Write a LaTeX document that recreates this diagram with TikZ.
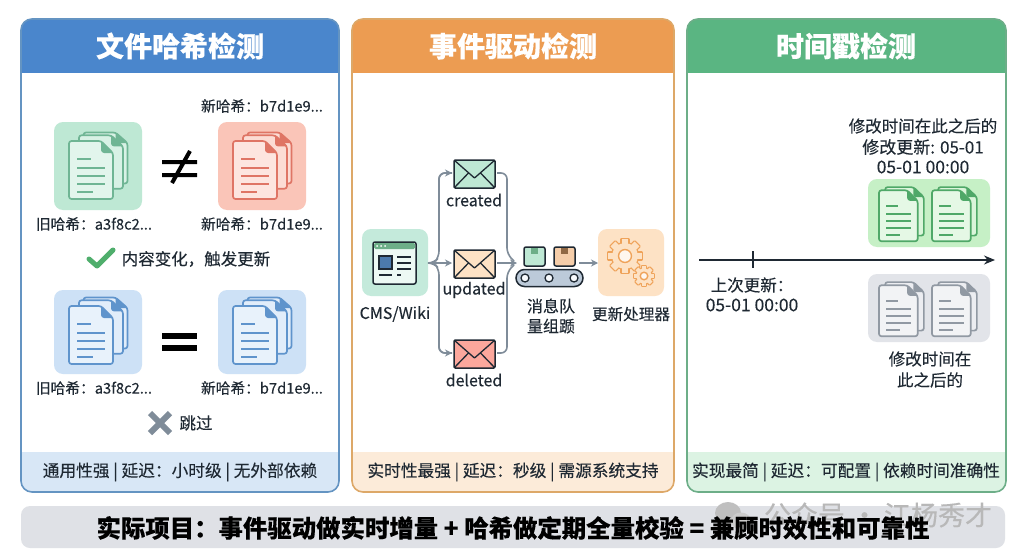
\documentclass[tikz,border=0pt]{standalone}
\usepackage{fontspec}
\setmainfont{Noto Sans CJK SC}[FakeBold=0.2]
\usetikzlibrary{arrows.meta}
\definecolor{bluehd}{HTML}{4A86CC}
\definecolor{blueln}{HTML}{6494C2}
\definecolor{bluefoot}{HTML}{D8E7F6}
\definecolor{orangehd}{HTML}{EC9C52}
\definecolor{orangeln}{HTML}{DDA868}
\definecolor{orangefoot}{HTML}{FCEBD9}
\definecolor{greenhd}{HTML}{5AB582}
\definecolor{greenln}{HTML}{6DAE88}
\definecolor{greenfoot}{HTML}{DCF3E3}
\definecolor{ink}{HTML}{1F2933}
\definecolor{arrowgray}{HTML}{7F8C99}
\definecolor{barbg}{HTML}{DFE1E6}
\definecolor{tilegreen}{HTML}{BEE8D4}
\definecolor{tilered}{HTML}{FAC5B8}
\definecolor{tileblue}{HTML}{CDE1F6}
\definecolor{tilecms}{HTML}{C4EADB}
\definecolor{tileorange}{HTML}{FDE2C5}
\definecolor{tilelime}{HTML}{C6F0C6}
\definecolor{tilegray}{HTML}{E2E4E9}
\definecolor{dgreen}{HTML}{6FB594}
\definecolor{dred}{HTML}{DF7565}
\definecolor{dblue}{HTML}{5F94CC}
\definecolor{dlime}{HTML}{4FA868}
\definecolor{dgray}{HTML}{9199A3}
\definecolor{gearc}{HTML}{EFA35A}
\definecolor{checkc}{HTML}{4FAE6C}
\newcommand{\fs}[1]{\fontsize{#1}{#1}\selectfont}
\tikzset{
  x=1pt,y=-1pt,
  hashlab/.style={font=\fs{14.7},text=ink,inner sep=0pt},
  lab/.style={font=\fs{16.5},text=ink,inner sep=0pt},
  timelab/.style={font=\fs{17.5},text=ink,inner sep=0pt},
  title/.style={font=\fs{28}\bfseries,text=white,inner sep=0pt},
  foot/.style={font=\fs{16.7},text=ink,inner sep=0pt},
  flow/.style={draw=arrowgray,line width=1.6pt,rounded corners=6pt},
  flowtip/.style={flow,-{Stealth[length=7pt,width=7pt]}},
  tile/.style={rounded corners=9pt},
}
\newcommand{\panel}[5]{%
  \fill[white,rounded corners=11pt] (#1,19) rectangle (#2,492);
  \begin{scope}
    \clip[rounded corners=11pt] (#1,19) rectangle (#2,492);
    \fill[#3] (#1,19) rectangle (#2,73);
    \fill[#5] (#1,452) rectangle (#2,492);
  \end{scope}
  \draw[#4,line width=1.6pt,rounded corners=11pt] (#1,19) rectangle (#2,492);
}
\newcommand{\pagepath}[3]{%
  \draw[#1,fill=#2,line width=1.7pt,line join=round,rounded corners=2.5pt]
    (-22,-29) -- (10,-29) -- (22,-17) -- (22,29) -- (-22,29) -- cycle;
  \fill[#1,rounded corners=1pt] (10,-29) -- (22,-17) -- (12,-17) -- (10,-19) -- cycle;
  \ifnum#3=1\relax
  \draw[#1,line width=1.5pt]
    (-14,-11) -- (0,-11) (-14,-2) -- (14,-2) (-14,6) -- (14,6) (-14,14) -- (14,14) (-14,22) -- (2,22);
  \fi
}
\newcommand{\stackthree}[5]{%
  \begin{scope}[shift={(#1,#2)}]
    \begin{scope}[shift={(7.5,-8)},yscale=.88]\pagepath{#3}{#4}{0}\end{scope}
    \begin{scope}[shift={(3,-4)},yscale=.92]\pagepath{#3}{#4}{0}\end{scope}
    \begin{scope}[shift={(-7,4)}]\pagepath{#3}{#5}{1}\end{scope}
  \end{scope}}
\newcommand{\stacktwo}[5]{%
  \begin{scope}[shift={(#1,#2)},scale=.88]
    \begin{scope}[shift={(4,-3)},yscale=.95]\pagepath{#3}{#4}{0}\end{scope}
    \begin{scope}[shift={(-3,2)}]\pagepath{#3}{#5}{1}\end{scope}
  \end{scope}}
\newcommand{\envelope}[3]{%
  \begin{scope}[shift={(#1,#2)}]
    \draw[ink,fill=#3,line width=1.5pt,rounded corners=1.5pt] (-20.5,-14) rectangle (20.5,14);
    \draw[ink,line width=1.3pt,line join=round] (-20.5,-14) -- (0,4) -- (20.5,-14) (-20.5,14) -- (-6,-1) (20.5,14) -- (6,-1);
  \end{scope}}
\newcommand{\gear}[5]{%
  \begin{scope}[shift={(#1,#2)}]
    \foreach \a in {0,45,...,315}{\draw[#4,line width=2.6pt,line join=round,rotate=\a] (-.2*#3,0) rectangle (.2*#3,-#3);}
    \draw[#4,line width=2.6pt] (0,0) circle[radius=.76*#3];
    \foreach \a in {0,45,...,315}{\fill[#5,rotate=\a] (-.2*#3,0) rectangle (.2*#3,-#3);}
    \fill[#5] (0,0) circle[radius=.76*#3];
    \draw[#4,line width=1.4pt,fill=white!70!#5] (0,0) circle[radius=.38*#3];
  \end{scope}}
\begin{document}
\begin{tikzpicture}
\useasboundingbox (0,0) rectangle (1024,559);
\fill[white] (0,0) rectangle (1024,559);

\panel{21}{339}{bluehd}{blueln}{bluefoot}
\panel{352}{674}{orangehd}{orangeln}{orangefoot}
\panel{687}{1006}{greenhd}{greenln}{greenfoot}

\node[title] (t1) at (180,46) {文件哈希检测};
\node[title] (t2) at (513,46) {事件驱动检测};
\node[title] (t3) at (846,46) {时间戳检测};

\node[foot] (f1) at (180,472) {通用性强 | 延迟：小时级 | 无外部依赖};
\node[foot] (f2) at (513,472) {实时性最强 | 延迟：秒级 | 需源系统支持};
\node[foot] (f3) at (846,472) {实现最简 | 延迟：可配置 | 依赖时间准确性};

\fill[tile,tilegreen] (54,122) rectangle (142,210);
\fill[tile,tilered] (218,122) rectangle (306,210);
\fill[tile,tileblue] (54,290) rectangle (142,374);
\fill[tile,tileblue] (218,290) rectangle (306,374);
\stackthree{98}{166}{dgreen}{white!40!tilegreen}{white!55!tilegreen}
\stackthree{262}{166}{dred}{white!40!tilered}{white!55!tilered}
\stackthree{98}{331}{dblue}{white!40!tileblue}{white!55!tileblue}
\stackthree{262}{331}{dblue}{white!40!tileblue}{white!55!tileblue}

\node[hashlab] (a1) at (262,106) {新哈希：b7d1e9...};
\node[hashlab] (a2) at (94,224) {旧哈希：a3f8c2...};
\node[hashlab] (a3) at (262,224) {新哈希：b7d1e9...};
\node[hashlab] (a4) at (94,388) {旧哈希：a3f8c2...};
\node[hashlab] (a5) at (262,388) {新哈希：b7d1e9...};
\node[lab] (a6) at (196,259) {内容变化，触发更新};
\node[lab] (a7) at (196,423) {跳过};

\draw[black,line width=4pt] (162,162) -- (197,162) (162,175) -- (197,175) (190,151) -- (172,183);
\draw[black,line width=6.5pt] (162,336) -- (197,336) (162,348) -- (197,348);
\draw[checkc,line width=5pt,line cap=round,line join=round] (89,259) -- (97,266) -- (113,250);
\draw[arrowgray,line width=6pt] (150,413) -- (170,433) (170,413) -- (150,433);

\fill[tile,tilecms] (362,229) rectangle (428,296);
\fill[tile,tileorange] (598,229) rectangle (664,296);
\node[lab,font=\fs{16}] (cms) at (395,314) {CMS/Wiki};
\node[lab,font=\fs{15.6}] (pr) at (631,314) {更新处理器};
\node[lab,font=\fs{16},align=center] (mq) at (551,316) {消息队\\[4pt]量组踬};
\node[lab,font=\fs{16}] (e1) at (474,200) {created};
\node[lab,font=\fs{16}] (e2) at (474,290) {updated};
\node[lab,font=\fs{16}] (e3) at (474,380) {deleted};

\coordinate (cmsout) at (428,263);
\coordinate (env1in) at (452,173);
\coordinate (env2in) at (452,263);
\coordinate (env3in) at (452,353);
\coordinate (env1out) at (497,173);
\coordinate (env2out) at (497,263);
\coordinate (env3out) at (497,353);
\coordinate (qin) at (517,263);
\coordinate (qout) at (579,263);
\coordinate (prin) at (598,263);
\draw[flowtip] (cmsout) -- (env2in);
\draw[flow] (cmsout) -- ++(6,0) -- ++(5,-6) -- (439,173) -- (env1in);
\draw[flowtip] (439,180) |- (env1in);
\draw[flow] (cmsout) -- ++(6,0) -- ++(5,6) -- (439,353) -- (env3in);
\draw[flowtip] (439,346) |- (env3in);
\draw[flow] (env1out) -| (507,254) -- (514,261);
\draw[flow] (env3out) -| (507,272) -- (514,265);
\draw[flowtip] (env2out) -- (qin);
\draw[flowtip] (qout) -- (prin);

\envelope{474.5}{174}{tilegreen}
\envelope{474.5}{264}{tileorange}
\envelope{474.5}{354}{tilered!85!red}

\draw[ink,fill=white!70!tilecms,line width=1.5pt,rounded corners=2pt] (373,242) rectangle (416,284);
\fill[greenln,rounded corners=1.5pt] (374,243) rectangle (415,249);
\fill[white] (377,246) circle[radius=1] (381,246) circle[radius=1] (385,246) circle[radius=1];
\draw[ink,fill=greenln!70!blue,line width=1.2pt] (379,256) rectangle (392,269);
\draw[ink,line width=1.3pt] (397,257) -- (411,257) (397,263) -- (411,263) (397,269) -- (411,269) (379,275) -- (392,275) (397,275) -- (401,275);

\draw[ink,fill=tilegreen,line width=1.5pt,rounded corners=2pt] (524,247) rectangle (545,266);
\fill[greenln] (531,247.5) rectangle (538,254);
\draw[ink,fill=orangehd!50!white,line width=1.5pt,rounded corners=2pt] (554,247) rectangle (575,266);
\fill[ink!45!orangehd] (561,247.5) rectangle (568,254);
\draw[ink,fill=bluefoot!85!ink,line width=1.5pt,rounded corners=8.5pt] (516,269.5) rectangle (583,286.5);
\foreach \cx in {525,549,574}{\draw[ink,fill=white!80!bluefoot,line width=1.3pt] (\cx,278) circle[radius=4];}

\gear{625}{256}{17}{gearc}{tileorange}
\gear{644}{276}{10}{gearc}{tileorange}

\fill[tile,tilelime] (868,179) rectangle (990,247);
\fill[tile,tilegray] (868,274) rectangle (990,342);
\stacktwo{901}{214}{dlime}{white!35!tilelime}{white!55!tilelime}
\stacktwo{954}{214}{dlime}{white!35!tilelime}{white!55!tilelime}
\stacktwo{901}{309}{dgray}{white!35!tilegray}{white!55!tilegray}
\stacktwo{954}{309}{dgray}{white!35!tilegray}{white!55!tilegray}

\coordinate (axs) at (699,260);
\coordinate (axe) at (995,260);
\coordinate (tt) at (753,251);
\coordinate (tb) at (753,268);
\draw[ink,line width=1.5pt,-{Stealth[length=11pt,width=9pt]}] (axs) -- (axe);
\draw[ink,line width=1.5pt] (tt) -- (tb);

\node[lab] (r1) at (752,285) {上次更新：};
\node[timelab] (r2) at (752,305) {05-01 00:00};
\node[lab] (r3) at (923,126) {修改时间在此之后的};
\node[lab,font=\fs{17}] (r4) at (923,147) {修改更新: 05-01};
\node[timelab] (r5) at (923,167) {05-01 00:00};
\node[lab] (r6) at (930,359) {修改时间在};
\node[lab] (r7) at (930,380) {此之后的};

\fill[barbg,rounded corners=9pt] (21,506) rectangle (1005,548);
\fill[black!25] (728,513) ellipse[x radius=13,y radius=11];
\fill[black!20] (741,521) ellipse[x radius=10,y radius=8.5];
\node[font=\fs{27},text=black!28,inner sep=0pt] (wm) at (878,515) {公众号 · 江杨秀才};
\node[font=\fs{24.4}\bfseries,text=black,inner sep=0pt] (bar) at (513,528) {实际项目：事件驱动做实时增量 + 哈希做定期全量校验 = 兼顾时效性和可靠性};
\end{tikzpicture}
\end{document}
